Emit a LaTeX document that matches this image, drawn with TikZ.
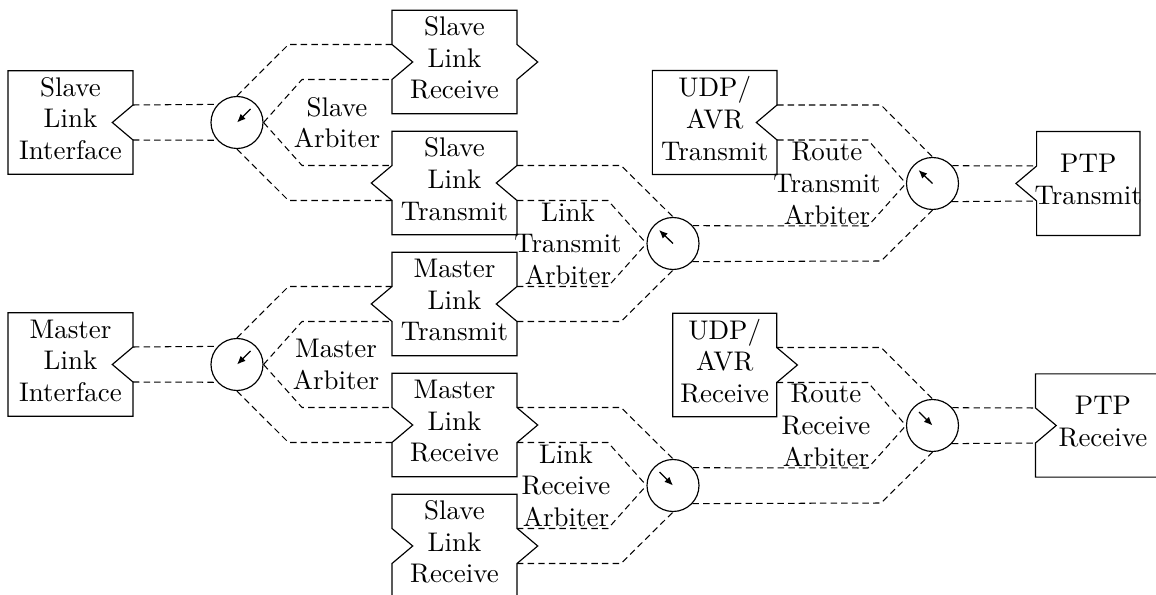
\documentclass[tikz,border=0pt]{standalone}
\usepackage{fontspec}
\usetikzlibrary{calc,arrows.meta}
\tikzset{
  boxline/.style={draw=black, line width=0.45pt},
  boxtext/.style={align=center, inner sep=0pt, yshift=1.5pt},
  arb/.style={circle, draw, line width=0.45pt, minimum size=20.07pt, inner sep=0pt},
  arblabel/.style={align=center, inner sep=0pt},
  conn/.style={line width=0.4pt, dash pattern=on 2.5pt off 1.6pt},
  hand/.style={line width=0.5pt, -{Latex[length=3.3pt,width=2.8pt]}},
}
% #1 name, #2 x, #3 y, #4 width, #5 height, #6 left notch dir, #7 right notch dir, #8 text
\newcommand\flowbox[8]{%
  \node[boxtext] (#1) at (#2,#3) {#8};
  \coordinate (#1-lu) at ({#2-#4/2},{#3-17.5});
  \coordinate (#1-ll) at ({#2-#4/2},{#3+17.5});
  \coordinate (#1-ru) at ({#2+#4/2},{#3-17.5});
  \coordinate (#1-rl) at ({#2+#4/2},{#3+17.5});
  \draw[boxline] ({#2-#4/2},{#3-#5/2}) -- ({#2+#4/2},{#3-#5/2}) -- (#1-ru)
    -- ({#2+#4/2+(#7)*20.7},#3) -- (#1-rl) -- ({#2+#4/2},{#3+#5/2})
    -- ({#2-#4/2},{#3+#5/2}) -- (#1-ll) -- ({#2-#4/2+(#6)*20.7},#3) -- (#1-lu) -- cycle;
}
\begin{document}
\begin{tikzpicture}[x=0.386pt,y=-0.386pt,every node/.style={font=\fontsize{10.4pt}{12.2pt}\selectfont}]
\clip (0,0) rectangle (1156,595);
% boxes
\flowbox{slr1}{454.5}{62}{125}{103.5}{1}{1}{Slave\\Link\\Receive}
\flowbox{sli}{70.5}{122.5}{125}{103.5}{0}{-1}{Slave\\Link\\Interface}
\flowbox{slt}{454.5}{183}{125}{103.5}{-1}{-1}{Slave\\Link\\Transmit}
\flowbox{mlt}{454.5}{304}{125}{103.5}{-1}{-1}{Master\\Link\\Transmit}
\flowbox{mli}{70.5}{364.5}{125}{103.5}{0}{-1}{Master\\Link\\Interface}
\flowbox{mlr}{454.5}{425}{125}{103.5}{1}{1}{Master\\Link\\Receive}
\flowbox{slr2}{454.5}{546}{125}{103.5}{1}{1}{Slave\\Link\\Receive}
\flowbox{uat}{714.7}{122.5}{124.7}{104}{0}{-1}{UDP/\\AVR\\Transmit}
\flowbox{uar}{724.7}{365}{104}{103.5}{0}{1}{UDP/\\AVR\\Receive}
\flowbox{ptpt}{1088.3}{183.5}{103.3}{104}{-1}{0}{PTP\\Transmit}
\flowbox{ptpr}{1103}{425.5}{135}{103.3}{1}{0}{PTP\\Receive}
% arbiters
\node[arb] (sa) at (237,122.5) {};
\node[arb] (ma) at (237,364.5) {};
\node[arb] (lt) at (673,243.5) {};
\node[arb] (lr) at (673,485.5) {};
\node[arb] (rt) at (932.5,183.5) {};
\node[arb] (rr) at (932.5,425.5) {};
% labels
\node[arblabel] (sal) at (337,122.5) {Slave\\Arbiter};
\node[arblabel] (mal) at (336,364.5) {Master\\Arbiter};
\node[arblabel] (ltl) at (568,243.5) {Link\\Transmit\\Arbiter};
\node[arblabel] (lrl) at (566,485.5) {Link\\Receive\\Arbiter};
\node[arblabel] (rtl) at (827,183.5) {Route\\Transmit\\Arbiter};
\node[arblabel] (rrl) at (826,425.5) {Route\\Receive\\Arbiter};
% slave arbiter
\draw[conn] (sli-ru) -- (sa.137.7);
\draw[conn] (sli-rl) -- (sa.222.3);
\draw[conn] (sa.north) -- (288.5,44.5) -- (slr1-lu);
\draw[conn] (sa.east) -- (302,79.5) -- (slr1-ll);
\draw[conn] (sa.east) -- (302,165.5) -- (slt-lu);
\draw[conn] (sa.south) -- (288.5,200.5) -- (slt-ll);
% master arbiter
\draw[conn] (mli-ru) -- (ma.137.7);
\draw[conn] (mli-rl) -- (ma.222.3);
\draw[conn] (ma.north) -- (288.5,286.5) -- (mlt-lu);
\draw[conn] (ma.east) -- (302,321.5) -- (mlt-ll);
\draw[conn] (ma.east) -- (302,407.5) -- (mlr-lu);
\draw[conn] (ma.south) -- (288.5,442.5) -- (mlr-ll);
% link transmit arbiter
\draw[conn] (slt-ru) -- (621,165.5) -- (lt.north);
\draw[conn] (slt-rl) -- (608,200.5) -- (lt.west);
\draw[conn] (mlt-ru) -- (608,286.5) -- (lt.west);
\draw[conn] (mlt-rl) -- (621,321.5) -- (lt.south);
% link receive arbiter
\draw[conn] (mlr-ru) -- (621,407.5) -- (lr.north);
\draw[conn] (mlr-rl) -- (608,442.5) -- (lr.west);
\draw[conn] (slr2-ru) -- (608,528.5) -- (lr.west);
\draw[conn] (slr2-rl) -- (621,563.5) -- (lr.south);
% route transmit arbiter
\draw[conn] (uat-ru) -- (881,105) -- (rt.north);
\draw[conn] (uat-rl) -- (868,140) -- (rt.west);
\draw[conn] (lt.42.3) -- (868,226) -- (rt.west);
\draw[conn] (lt.317.7) -- (881,261) -- (rt.south);
\draw[conn] (rt.42.3) -- (ptpt-lu);
\draw[conn] (rt.317.7) -- (ptpt-ll);
% route receive arbiter
\draw[conn] (uar-ru) -- (881,347.5) -- (rr.north);
\draw[conn] (uar-rl) -- (868,382.5) -- (rr.west);
\draw[conn] (lr.42.3) -- (868,468) -- (rr.west);
\draw[conn] (lr.317.7) -- (881,503) -- (rr.south);
\draw[conn] (rr.42.3) -- (ptpr-lu);
\draw[conn] (rr.317.7) -- (ptpr-ll);
% hands
\draw[hand] ($(sa)+(13.5,-13.5)$) -- (sa.center);
\draw[hand] ($(ma)+(13.5,-13.5)$) -- (ma.center);
\draw[hand] (lt.center) -- ($(lt)+(-14,-13.5)$);
\draw[hand] (rt.center) -- ($(rt)+(-14,-13.5)$);
\draw[hand] ($(lr)+(-13.5,-13.5)$) -- (lr.center);
\draw[hand] ($(rr)+(-13.5,-13.5)$) -- (rr.center);
\end{tikzpicture}
\end{document}
